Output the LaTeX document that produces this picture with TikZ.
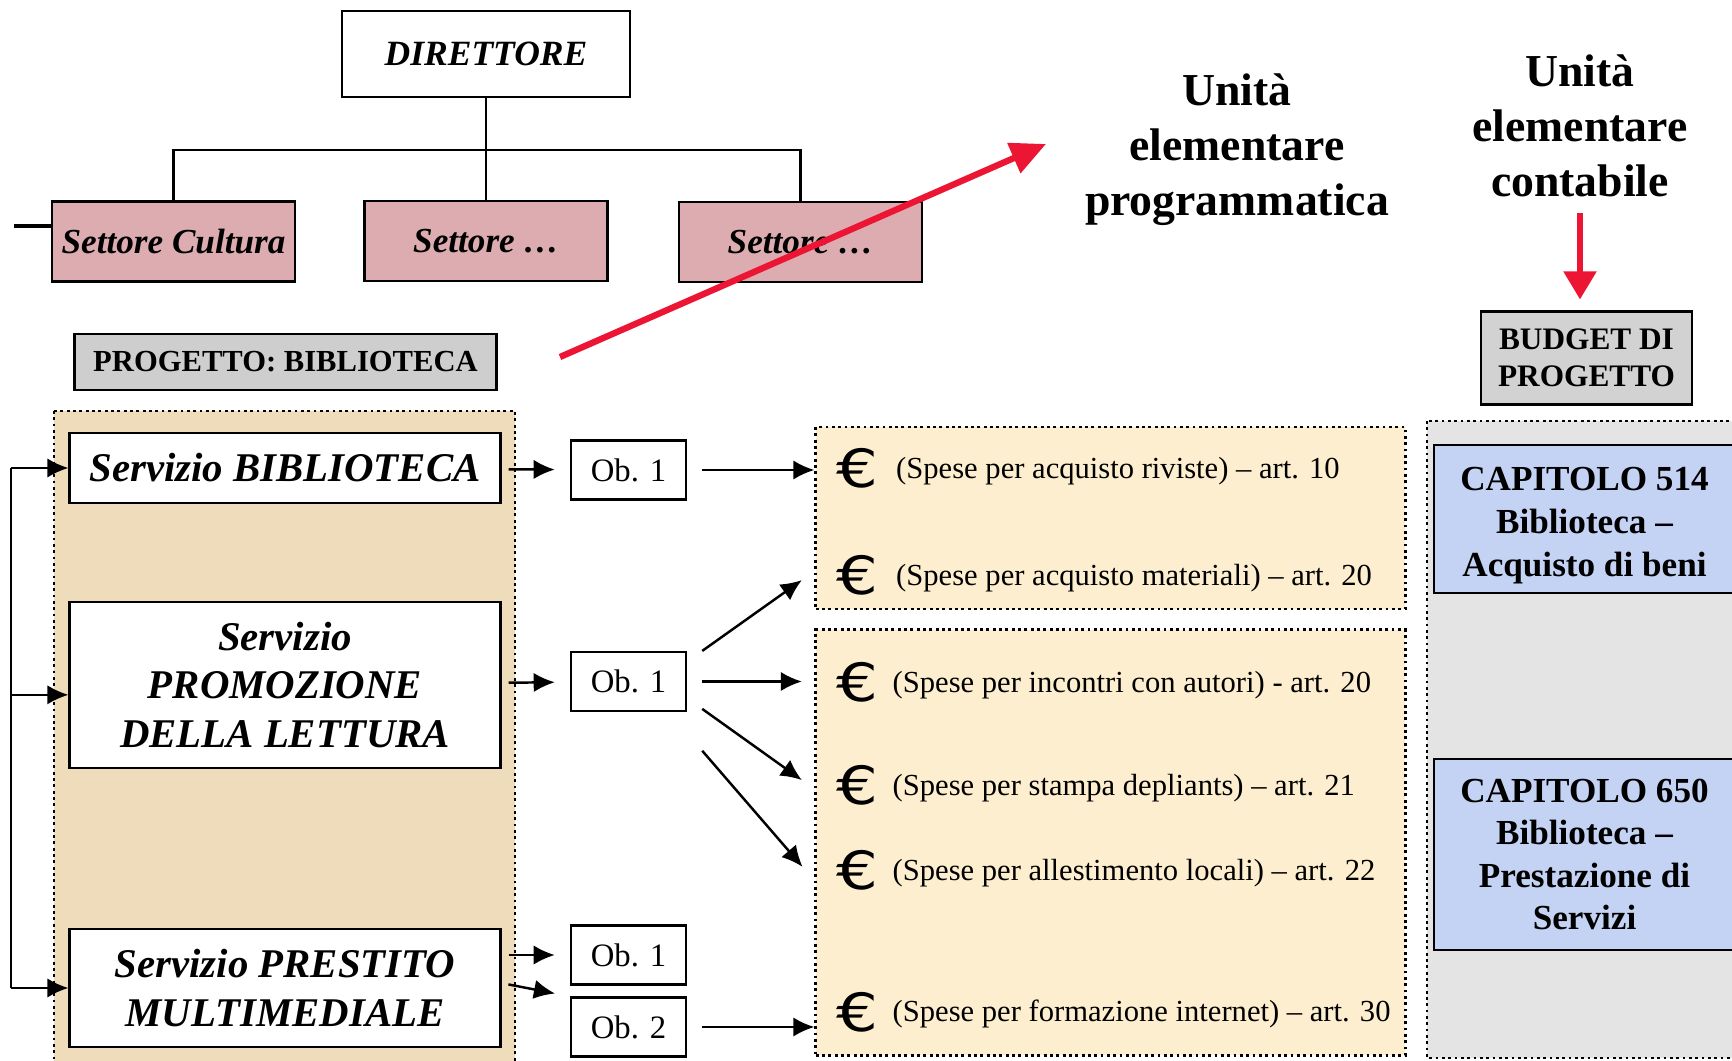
\documentclass[tikz,border=0pt]{standalone}
\usepackage{fontspec}
\setmainfont{Liberation Serif}
\newfontfamily\eurofont{DejaVu Sans}
\usetikzlibrary{arrows.meta}
\tikzset{>={Latex[length=6pt,width=5.5pt]}}
\definecolor{rosa}{RGB}{220,172,177}
\definecolor{sabbia}{RGB}{238,220,186}
\definecolor{crema}{RGB}{252,238,206}
\definecolor{marmo}{RGB}{206,206,206}
\definecolor{grigino}{RGB}{228,228,228}
\definecolor{lilla}{RGB}{196,210,244}
\definecolor{rosso}{RGB}{236,22,52}
\newcommand\eur{\raisebox{-2.6pt}{\scalebox{1.25}[1]{\eurofont\fontsize{15}{15}\selectfont €}}}
\newcommand\righe[2]{\raisebox{-#1}[\height][\depth]{\begin{tabular}{@{}c@{}}#2\end{tabular}}}
\tikzset{
    casella/.style={draw,line width=0.8pt,align=center,inner sep=0pt},
    settore/.style={casella,fill=rosa,minimum width=2.43cm,minimum height=0.8cm,
        font=\fontsize{10}{12}\selectfont\bfseries\itshape},
    servizio/.style={casella,fill=white,minimum width=4.3cm,
        font=\fontsize{11.6}{13.8}\selectfont\bfseries\itshape},
    obiettivo/.style={casella,fill=white,line width=0.6pt,minimum width=1.15cm,
        minimum height=0.59cm,font=\fontsize{9.3}{11}\selectfont},
    voce/.style={anchor=west,inner sep=0pt,font=\fontsize{8.7}{10}\selectfont},
    titolo/.style={align=center,font=\fontsize{13}{15.6}\selectfont\bfseries},
    capitolo/.style={casella,fill=lilla,minimum width=3.01cm,
        font=\fontsize{10}{12.1}\selectfont\bfseries},
    pannello/.style={draw,densely dotted,line width=0.8pt},
    freccia/.style={->,line width=0.7pt},
    rossa/.style={-{Triangle[length=10pt,width=9pt]},rosso,line width=1.8pt}
}

\begin{document}
\begin{tikzpicture}[x=0.01cm,y=-0.01cm]
    \path[fill=white,use as bounding box] (0,0) rectangle (1732,1061);
    \draw[pannello,fill=sabbia]  (54,411) rectangle (515,1075);
    \draw[pannello,fill=grigino] (1427,421) rectangle (1745,1058);
    \node[pannello,fill=crema,minimum width=5.89cm,minimum height=1.82cm] (ba) at (1110.5,518) {};
    \node[pannello,fill=crema,minimum width=5.89cm,minimum height=4.25cm] (bb) at (1110.5,842.5) {};

    \node[casella,fill=white,minimum width=2.88cm,minimum height=0.86cm,
        font=\fontsize{10.1}{12}\selectfont\bfseries\itshape] (dir) at (486,54) {DIRETTORE};
    \node[settore] (s1) at (173.5,241.5) {Settore Cultura};
    \node[settore] (s2) at (486,241) {Settore …};
    \node[settore] (s3) at (800.5,242) {Settore …};
    \coordinate (bus)  at (486,150);
    \coordinate (stub) at (14,226);
    \draw[line width=0.7pt] (dir) -- (s2);
    \draw[line width=0.7pt] (s1.north) |- (bus) -| (s3.north);
    \draw[line width=1.2pt] (stub) -- (stub -| s1.west);

    \node[titolo] (prog) at (1237,150) {Unità\\elementare\\programmatica};
    \node[titolo] (cont) at (1580,126) {Unità\\elementare\\contabile};
    \coordinate (rs) at (560,357);
    \coordinate (rt) at (1046,144);
    \draw[rossa] (rs) -- (rt);

    \node[casella,fill=marmo,minimum width=4.21cm,minimum height=0.56cm,
        font=\fontsize{8.7}{11}\selectfont\bfseries] (pb) at (285.5,362) {PROGETTO: BIBLIOTECA};
    \node[casella,fill=grigino!92!black,minimum width=2.11cm,minimum height=0.93cm,
        font=\fontsize{8.9}{10.4}\selectfont\bfseries] (bud) at (1586.5,358) {BUDGET DI\\PROGETTO};
    \draw[rossa,-{Triangle[length=8pt,width=9pt]},shorten <=1pt,shorten >=3pt]
        (cont.south) -- (cont.south |- bud.north);

    \node[servizio,minimum height=0.7cm]  (sb) at (285,468) {Servizio BIBLIOTECA};
    \node[servizio,minimum height=1.66cm] (sp) at (285,685) {Servizio\\PROMOZIONE\\DELLA LETTURA};
    \node[servizio,minimum height=1.18cm] (sm) at (285,988) {Servizio PRESTITO\\MULTIMEDIALE};

    \node[obiettivo] (o1) at (628.5,470)   {Ob. 1};
    \node[obiettivo] (o2) at (628.5,681.5) {Ob. 1};
    \node[obiettivo] (o3) at (628.5,955)   {Ob. 1};
    \node[obiettivo] (o4) at (628.5,1027)  {Ob. 2};

    \coordinate (br) at (11,0);
    \draw[line width=0.7pt] (sb.west -| br) -- (sm.west -| br);
    \draw[freccia] (sb.west -| br) -- (sb.west);
    \draw[freccia] ([yshift=-2.8pt]sp.west -| br) -- ([yshift=-2.8pt]sp.west);
    \draw[freccia] (sm.west -| br) -- (sm.west);

    \draw[freccia,shorten <=2pt,shorten >=4.3pt] (sb) -- (o1);
    \draw[freccia,shorten <=2pt,shorten >=4.3pt] (sp) -- (o2);
    \draw[freccia,shorten <=2pt,shorten >=4.3pt] (sm.east |- o3) -- (o3.west);
    \draw[freccia,shorten <=2pt,shorten >=4.3pt] ([yshift=1.4pt]sm.east) -- (o4.north west);

    \node[voce] (e1) at (836,468.4)  {\eur\hspace{5pt}(Spese per acquisto riviste) – art. 10};
    \node[voce] (e2) at (836,575.5)  {\eur\hspace{5pt}(Spese per acquisto materiali) – art. 20};
    \node[voce] (e3) at (836,682.6)  {\eur\hspace{4pt}(Spese per incontri con autori) - art. 20};
    \node[voce] (e4) at (836,785.4)  {\eur\hspace{4pt}(Spese per stampa depliants) – art. 21};
    \node[voce] (e5) at (836,870.4)  {\eur\hspace{4pt}(Spese per allestimento locali) – art. 22};
    \node[voce] (e6) at (836,1011.8) {\eur\hspace{4pt}(Spese per formazione internet) – art. 30};

    \draw[freccia,shorten <=4.3pt] (o1) -- (o1 -| ba.west);
    \draw[freccia,shorten <=4.3pt] (o4) -- (o4 -| bb.west);
    \draw[freccia] ([xshift=4.3pt]o2.north east) -- ([xshift=-9.7pt,yshift=-1.3pt]e2.west);
    \draw[freccia] ([xshift=4.3pt]o2.east) -- ([xshift=-9.7pt]o2.east -| e3.west);
    \draw[freccia] ([xshift=4.3pt,yshift=0.9pt]o2.south east) -- ([xshift=-9.7pt,yshift=1.5pt]e4.west);
    \draw[freccia] ([xshift=4.3pt,yshift=-11pt]o2.south east) -- ([xshift=-9.5pt,yshift=1pt]e5.west);

    \node[capitolo,minimum height=1.48cm] (c1) at (1584.5,519)
        {\righe{1.7pt}{CAPITOLO 514\\Biblioteca –\\Acquisto di beni}};
    \node[capitolo,minimum height=1.91cm] (c2) at (1584.5,854.5)
        {\righe{0.9pt}{CAPITOLO 650\\Biblioteca –\\Prestazione di\\Servizi}};
\end{tikzpicture}
\end{document}
